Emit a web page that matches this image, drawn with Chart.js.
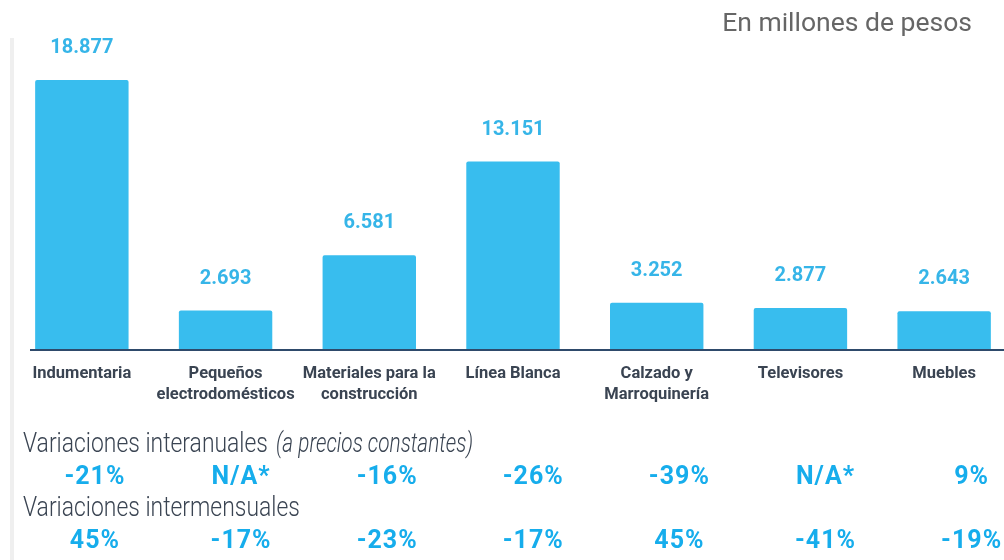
<!DOCTYPE html>
<html>
<head>
<meta charset="utf-8">
<script src="https://cdn.jsdelivr.net/npm/chart.js@4"></script>
<style>
  html, body { margin: 0; padding: 0; background: #fff; overflow: hidden; }
  #wrap { position: relative; width: 1020px; height: 560px; }
</style>
</head>
<body>
<div id="wrap"><canvas id="canvas"></canvas></div>
<script>
// Datos del gráfico
const categorias = [
    ['Indumentaria'],
    ['Pequeños', 'electrodomésticos'],
    ['Materiales para la', 'construcción'],
    ['Línea Blanca'],
    ['Calzado y', 'Marroquinería'],
    ['Televisores'],
    ['Muebles']
];
const ventas = [18877, 2693, 6581, 13151, 3252, 2877, 2643];
const varInteranual = ['-21%', 'N/A*', '-16%', '-26%', '-39%', 'N/A*', '9%'];
const varIntermensual = ['45%', '-17%', '-23%', '-17%', '45%', '-41%', '-19%'];
const unidad = 'En millones de pesos';
const tituloInteranual = 'Variaciones interanuales';
const notaInteranual = '(a precios constantes)';
const tituloIntermensual = 'Variaciones intermensuales';

const colores = {
    barra: '#38bdee',
    etiqueta: '#36b5e8',
    porcentaje: '#16adec',
    eje: '#2e4a6b',
    texto: '#3a4452',
    gris: '#666666',
    borde: '#efefef'
};

// separador de miles con punto
const fmt = n => n.toString().replace(/\B(?=(\d{3})+(?!\d))/g, '.');

const decoraciones = {
    id: 'decoraciones',
    beforeDraw(chart) {
        const ctx = chart.ctx;
        ctx.save();
        // línea gris a la izquierda
        ctx.fillStyle = colores.borde;
        ctx.fillRect(10, 38, 4, chart.height - 38);
        ctx.restore();
    },
    afterDatasetsDraw(chart) {
        const ctx = chart.ctx;
        const area = chart.chartArea;
        const xs = chart.scales.x;
        const ys = chart.scales.y;
        ctx.save();

        // eje inferior
        const y0 = Math.round(ys.getPixelForValue(0)) + 1;
        ctx.strokeStyle = colores.eje;
        ctx.lineWidth = 2;
        ctx.beginPath();
        ctx.moveTo(area.left + 20, y0);
        ctx.lineTo(area.right, y0);
        ctx.stroke();

        // valores sobre las barras
        ctx.fillStyle = colores.etiqueta;
        ctx.font = 'bold 20px Roboto';
        ctx.textAlign = 'center';
        ctx.textBaseline = 'alphabetic';
        chart.getDatasetMeta(0).data.forEach((bar, i) => {
            ctx.fillText(fmt(ventas[i]), bar.x, bar.y - 27);
        });

        // unidad arriba a la derecha
        ctx.fillStyle = colores.gris;
        ctx.font = '26.5px Roboto';
        ctx.textAlign = 'right';
        ctx.fillText(unidad, 972, 31);

        // títulos de las filas de variaciones
        const titulo = (txt, nota, y) => {
            ctx.save();
            ctx.fillStyle = colores.texto;
            ctx.textAlign = 'left';
            ctx.font = '300 27px Roboto';
            const k = 0.848;
            const w = ctx.measureText(txt).width * k;
            ctx.translate(23, y);
            ctx.save();
            ctx.scale(k, 1);
            ctx.fillText(txt, 0, 0);
            ctx.restore();
            if (nota) {
                ctx.translate(w + 8, 0);
                ctx.scale(0.77, 1);
                ctx.font = 'italic 300 27px Roboto';
                ctx.fillText(nota, 0, 0);
            }
            ctx.restore();
        };
        titulo(tituloInteranual, notaInteranual, 452);
        titulo(tituloIntermensual, null, 516);

        // porcentajes
        ctx.fillStyle = colores.porcentaje;
        ctx.font = 'bold 25px Roboto';
        ctx.letterSpacing = '1px';
        ctx.textAlign = 'center';
        categorias.forEach((c, i) => {
            const px = xs.getPixelForValue(i) * 1.0167 + 11.7;
            ctx.fillText(varInteranual[i], px, 484);
            ctx.fillText(varIntermensual[i], px, 548);
        });
        ctx.restore();
    }
};

const ctx2 = document.getElementById('canvas').getContext('2d');
new Chart(ctx2, {
    type: 'bar',
    data: {
        labels: categorias,
        datasets: [{
            data: ventas,
            backgroundColor: colores.barra,
            borderRadius: 2,
            barPercentage: 0.65,
            categoryPercentage: 1
        }]
    },
    options: {
        responsive: true,
        maintainAspectRatio: false,
        animation: false,
        layout: { padding: { left: 10, right: 4, top: 35.5, bottom: 0 } },
        plugins: {
            legend: { display: false },
            tooltip: { enabled: false }
        },
        scales: {
            x: {
                grid: { display: false, drawTicks: false },
                border: { display: false },
                afterFit: s => { s.height = 211; },
                ticks: {
                    color: colores.texto,
                    font: { family: 'Roboto', weight: 'bold', size: 16.5, lineHeight: 1.28 },
                    padding: 14,
                    maxRotation: 0,
                    autoSkip: false
                }
            },
            y: {
                display: false,
                min: 0,
                max: 22000
            }
        }
    },
    plugins: [decoraciones]
});
</script>
</body>
</html>
